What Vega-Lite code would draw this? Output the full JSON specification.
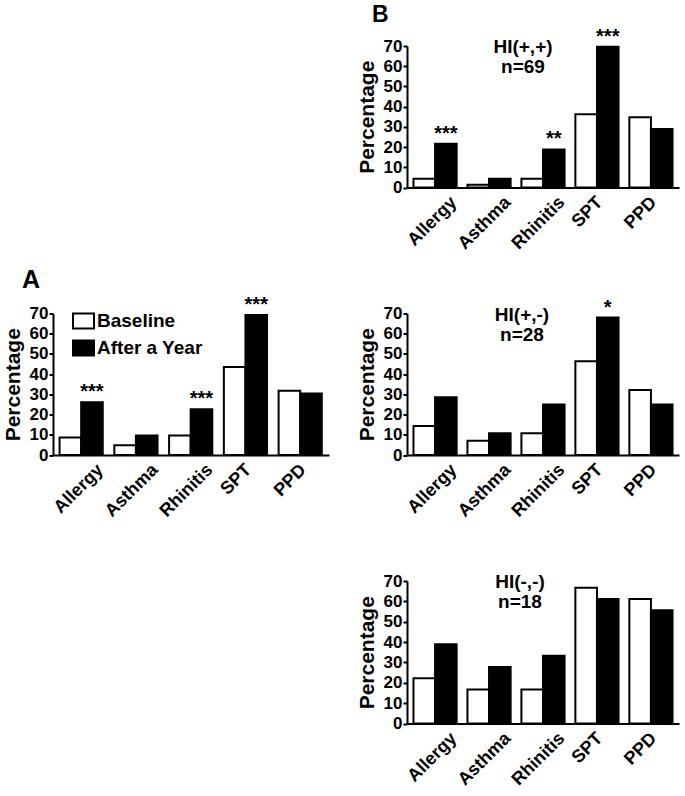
{
  "$schema": "https://vega.github.io/schema/vega-lite/v6.json",
  "background": "white",
  "padding": {"left": 2, "top": 3, "right": 5, "bottom": 5},
  "config": {
    "font": "Liberation Sans",
    "view": {"stroke": null},
    "axis": {"grid": false, "domainColor": "black", "domainWidth": 2, "tickColor": "black", "tickWidth": 2, "labelColor": "black", "labelFontWeight": "bold", "titleColor": "black", "titleFontWeight": "bold"},
    "axisY": {"tickSize": 4, "tickCount": 8, "labelFontSize": 17, "labelPadding": 1, "labelOverlap": false, "titleFontSize": 21, "titlePadding": 6},
    "axisX": {"ticks": false, "labelFontSize": 18, "labelAngle": -45, "labelAlign": "right", "labelBaseline": "middle", "labelPadding": 12, "labelOverlap": false}
  },
  "datasets": {
    "bars": [
      {"panel": "A", "cat": "Allergy", "period": "Baseline", "value": 8.7, "sig": ""},
      {"panel": "A", "cat": "Allergy", "period": "After a Year", "value": 26.1, "sig": "***"},
      {"panel": "A", "cat": "Asthma", "period": "Baseline", "value": 4.8, "sig": ""},
      {"panel": "A", "cat": "Asthma", "period": "After a Year", "value": 9.6, "sig": ""},
      {"panel": "A", "cat": "Rhinitis", "period": "Baseline", "value": 9.6, "sig": ""},
      {"panel": "A", "cat": "Rhinitis", "period": "After a Year", "value": 22.6, "sig": "***"},
      {"panel": "A", "cat": "SPT", "period": "Baseline", "value": 43.5, "sig": ""},
      {"panel": "A", "cat": "SPT", "period": "After a Year", "value": 69.3, "sig": "***"},
      {"panel": "A", "cat": "PPD", "period": "Baseline", "value": 31.8, "sig": ""},
      {"panel": "A", "cat": "PPD", "period": "After a Year", "value": 30.4, "sig": ""},
      {"panel": "B1", "cat": "Allergy", "period": "Baseline", "value": 4.3, "sig": ""},
      {"panel": "B1", "cat": "Allergy", "period": "After a Year", "value": 21.7, "sig": "***"},
      {"panel": "B1", "cat": "Asthma", "period": "Baseline", "value": 1.4, "sig": ""},
      {"panel": "B1", "cat": "Asthma", "period": "After a Year", "value": 4.3, "sig": ""},
      {"panel": "B1", "cat": "Rhinitis", "period": "Baseline", "value": 4.3, "sig": ""},
      {"panel": "B1", "cat": "Rhinitis", "period": "After a Year", "value": 18.8, "sig": "**"},
      {"panel": "B1", "cat": "SPT", "period": "Baseline", "value": 36.2, "sig": ""},
      {"panel": "B1", "cat": "SPT", "period": "After a Year", "value": 69.6, "sig": "***"},
      {"panel": "B1", "cat": "PPD", "period": "Baseline", "value": 34.8, "sig": ""},
      {"panel": "B1", "cat": "PPD", "period": "After a Year", "value": 29.0, "sig": ""},
      {"panel": "B2", "cat": "Allergy", "period": "Baseline", "value": 14.3, "sig": ""},
      {"panel": "B2", "cat": "Allergy", "period": "After a Year", "value": 28.6, "sig": ""},
      {"panel": "B2", "cat": "Asthma", "period": "Baseline", "value": 7.1, "sig": ""},
      {"panel": "B2", "cat": "Asthma", "period": "After a Year", "value": 10.7, "sig": ""},
      {"panel": "B2", "cat": "Rhinitis", "period": "Baseline", "value": 10.7, "sig": ""},
      {"panel": "B2", "cat": "Rhinitis", "period": "After a Year", "value": 25.0, "sig": ""},
      {"panel": "B2", "cat": "SPT", "period": "Baseline", "value": 46.4, "sig": ""},
      {"panel": "B2", "cat": "SPT", "period": "After a Year", "value": 68.0, "sig": "*"},
      {"panel": "B2", "cat": "PPD", "period": "Baseline", "value": 32.1, "sig": ""},
      {"panel": "B2", "cat": "PPD", "period": "After a Year", "value": 25.0, "sig": ""},
      {"panel": "B3", "cat": "Allergy", "period": "Baseline", "value": 22.2, "sig": ""},
      {"panel": "B3", "cat": "Allergy", "period": "After a Year", "value": 38.9, "sig": ""},
      {"panel": "B3", "cat": "Asthma", "period": "Baseline", "value": 16.7, "sig": ""},
      {"panel": "B3", "cat": "Asthma", "period": "After a Year", "value": 27.8, "sig": ""},
      {"panel": "B3", "cat": "Rhinitis", "period": "Baseline", "value": 16.7, "sig": ""},
      {"panel": "B3", "cat": "Rhinitis", "period": "After a Year", "value": 33.3, "sig": ""},
      {"panel": "B3", "cat": "SPT", "period": "Baseline", "value": 66.7, "sig": ""},
      {"panel": "B3", "cat": "SPT", "period": "After a Year", "value": 61.1, "sig": ""},
      {"panel": "B3", "cat": "PPD", "period": "Baseline", "value": 61.1, "sig": ""},
      {"panel": "B3", "cat": "PPD", "period": "After a Year", "value": 55.6, "sig": ""}
    ],
    "labels": [
      {"panel": "B1", "label": "HI(+,+)\nn=69"},
      {"panel": "B2", "label": "HI(+,-)\nn=28"},
      {"panel": "B3", "label": "HI(-,-)\nn=18"}
    ]
  },
  "columns": 2,
  "spacing": {"row": 125.5, "column": 78},
  "bounds": "flush",
  "align": "each",
  "resolve": {"scale": {"fill": "independent"}, "legend": {"fill": "independent"}},
  "concat": [
    {"width": 276, "height": 141.5, "data": {"values": []}, "mark": "point", "encoding": {}},
    {
      "width": 272, "height": 141.5,
      "title": {"text": "B", "anchor": "start", "frame": "group", "fontSize": 23, "fontWeight": "bold", "color": "black", "dx": -35, "offset": 0},
      "layer": [
        {
          "data": {"name": "bars"},
          "transform": [{"filter": "datum.panel === 'B1'"}],
          "mark": {"type": "bar", "stroke": "black", "strokeWidth": 2},
          "encoding": {
            "x": {"field": "cat", "type": "nominal", "title": null, "scale": {"domain": ["Allergy", "Asthma", "Rhinitis", "SPT", "PPD"], "paddingInner": 0.2, "paddingOuter": 0.12},
                  "axis": {"labelOffset": {"condition": {"test": "datum.value === 'SPT' || datum.value === 'PPD'", "value": 3}, "value": 19}}},
            "xOffset": {"field": "period", "type": "nominal", "scale": {"domain": ["Baseline", "After a Year"]}},
            "y": {"field": "value", "type": "quantitative", "title": "Percentage", "scale": {"domain": [0, 70]}},
            "fill": {"field": "period", "type": "nominal", "scale": {"domain": ["Baseline", "After a Year"], "range": ["white", "black"]}, "legend": null}
          }
        },
        {
          "data": {"name": "bars"},
          "transform": [{"filter": "datum.panel === 'B1' && datum.sig !== ''"}],
          "mark": {"type": "text", "fontSize": 20, "fontWeight": "bold", "color": "black", "baseline": "alphabetic", "dy": -4},
          "encoding": {
            "x": {"field": "cat", "type": "nominal", "title": null},
            "xOffset": {"field": "period", "type": "nominal", "scale": {"domain": ["Baseline", "After a Year"]}},
            "y": {"field": "value", "type": "quantitative", "title": "Percentage"},
            "text": {"field": "sig"}
          }
        },
        {
          "data": {"name": "labels"},
          "transform": [{"filter": "datum.panel === 'B1'"}],
          "mark": {"type": "text", "fontSize": 19, "fontWeight": "bold", "color": "black", "lineBreak": "\n", "lineHeight": 20, "align": "center", "baseline": "alphabetic", "dx": -20, "dy": 7},
          "encoding": {
            "x": {"datum": "Rhinitis", "type": "nominal", "title": null},
            "y": {"datum": 70, "type": "quantitative", "title": "Percentage"},
            "text": {"field": "label"}
          }
        }
      ]
    },
    {
      "width": 276, "height": 141.5,
      "title": {"text": "A", "anchor": "start", "frame": "group", "fontSize": 25, "fontWeight": "bold", "color": "black", "dx": -31, "offset": 2},
      "layer": [
        {
          "data": {"name": "bars"},
          "transform": [{"filter": "datum.panel === 'A'"}],
          "mark": {"type": "bar", "stroke": "black", "strokeWidth": 2},
          "encoding": {
            "x": {"field": "cat", "type": "nominal", "title": null, "scale": {"domain": ["Allergy", "Asthma", "Rhinitis", "SPT", "PPD"], "paddingInner": 0.2, "paddingOuter": 0.12},
                  "axis": {"labelOffset": {"condition": {"test": "datum.value === 'SPT' || datum.value === 'PPD'", "value": 3}, "value": 19}}},
            "xOffset": {"field": "period", "type": "nominal", "scale": {"domain": ["Baseline", "After a Year"]}},
            "y": {"field": "value", "type": "quantitative", "title": "Percentage", "scale": {"domain": [0, 70]}},
            "fill": {"field": "period", "type": "nominal", "scale": {"domain": ["Baseline", "After a Year"], "range": ["white", "black"]},
                     "legend": {"title": null, "orient": "none", "legendX": 21, "legendY": -2, "direction": "vertical", "labelFontSize": 19, "labelFontWeight": "bold", "labelColor": "black", "labelOffset": 4, "rowPadding": 4, "symbolType": "M-1.4,-1L1.4,-1L1.4,1L-1.4,1Z", "symbolSize": 225, "symbolStrokeColor": "black", "symbolStrokeWidth": 2, "symbolOpacity": 1}}
          }
        },
        {
          "data": {"name": "bars"},
          "transform": [{"filter": "datum.panel === 'A' && datum.sig !== ''"}],
          "mark": {"type": "text", "fontSize": 20, "fontWeight": "bold", "color": "black", "baseline": "alphabetic", "dy": -4},
          "encoding": {
            "x": {"field": "cat", "type": "nominal", "title": null},
            "xOffset": {"field": "period", "type": "nominal", "scale": {"domain": ["Baseline", "After a Year"]}},
            "y": {"field": "value", "type": "quantitative", "title": "Percentage"},
            "text": {"field": "sig"}
          }
        }
      ]
    },
    {
      "width": 272, "height": 141.5,
      "layer": [
        {
          "data": {"name": "bars"},
          "transform": [{"filter": "datum.panel === 'B2'"}],
          "mark": {"type": "bar", "stroke": "black", "strokeWidth": 2},
          "encoding": {
            "x": {"field": "cat", "type": "nominal", "title": null, "scale": {"domain": ["Allergy", "Asthma", "Rhinitis", "SPT", "PPD"], "paddingInner": 0.2, "paddingOuter": 0.12},
                  "axis": {"labelOffset": {"condition": {"test": "datum.value === 'SPT' || datum.value === 'PPD'", "value": 3}, "value": 19}}},
            "xOffset": {"field": "period", "type": "nominal", "scale": {"domain": ["Baseline", "After a Year"]}},
            "y": {"field": "value", "type": "quantitative", "title": "Percentage", "scale": {"domain": [0, 70]}},
            "fill": {"field": "period", "type": "nominal", "scale": {"domain": ["Baseline", "After a Year"], "range": ["white", "black"]}, "legend": null}
          }
        },
        {
          "data": {"name": "bars"},
          "transform": [{"filter": "datum.panel === 'B2' && datum.sig !== ''"}],
          "mark": {"type": "text", "fontSize": 20, "fontWeight": "bold", "color": "black", "baseline": "alphabetic", "dy": -4},
          "encoding": {
            "x": {"field": "cat", "type": "nominal", "title": null},
            "xOffset": {"field": "period", "type": "nominal", "scale": {"domain": ["Baseline", "After a Year"]}},
            "y": {"field": "value", "type": "quantitative", "title": "Percentage"},
            "text": {"field": "sig"}
          }
        },
        {
          "data": {"name": "labels"},
          "transform": [{"filter": "datum.panel === 'B2'"}],
          "mark": {"type": "text", "fontSize": 19, "fontWeight": "bold", "color": "black", "lineBreak": "\n", "lineHeight": 20, "align": "center", "baseline": "alphabetic", "dx": -21, "dy": 7},
          "encoding": {
            "x": {"datum": "Rhinitis", "type": "nominal", "title": null},
            "y": {"datum": 70, "type": "quantitative", "title": "Percentage"},
            "text": {"field": "label"}
          }
        }
      ]
    },
    {"width": 276, "height": 142.5, "data": {"values": []}, "mark": "point", "encoding": {}},
    {
      "width": 272, "height": 142.5,
      "layer": [
        {
          "data": {"name": "bars"},
          "transform": [{"filter": "datum.panel === 'B3'"}],
          "mark": {"type": "bar", "stroke": "black", "strokeWidth": 2},
          "encoding": {
            "x": {"field": "cat", "type": "nominal", "title": null, "scale": {"domain": ["Allergy", "Asthma", "Rhinitis", "SPT", "PPD"], "paddingInner": 0.2, "paddingOuter": 0.12},
                  "axis": {"labelOffset": {"condition": {"test": "datum.value === 'SPT' || datum.value === 'PPD'", "value": 3}, "value": 19}}},
            "xOffset": {"field": "period", "type": "nominal", "scale": {"domain": ["Baseline", "After a Year"]}},
            "y": {"field": "value", "type": "quantitative", "title": "Percentage", "scale": {"domain": [0, 70]}},
            "fill": {"field": "period", "type": "nominal", "scale": {"domain": ["Baseline", "After a Year"], "range": ["white", "black"]}, "legend": null}
          }
        },
        {
          "data": {"name": "labels"},
          "transform": [{"filter": "datum.panel === 'B3'"}],
          "mark": {"type": "text", "fontSize": 19, "fontWeight": "bold", "color": "black", "lineBreak": "\n", "lineHeight": 20, "align": "center", "baseline": "alphabetic", "dx": -23, "dy": 7},
          "encoding": {
            "x": {"datum": "Rhinitis", "type": "nominal", "title": null},
            "y": {"datum": 70, "type": "quantitative", "title": "Percentage"},
            "text": {"field": "label"}
          }
        }
      ]
    }
  ]
}
